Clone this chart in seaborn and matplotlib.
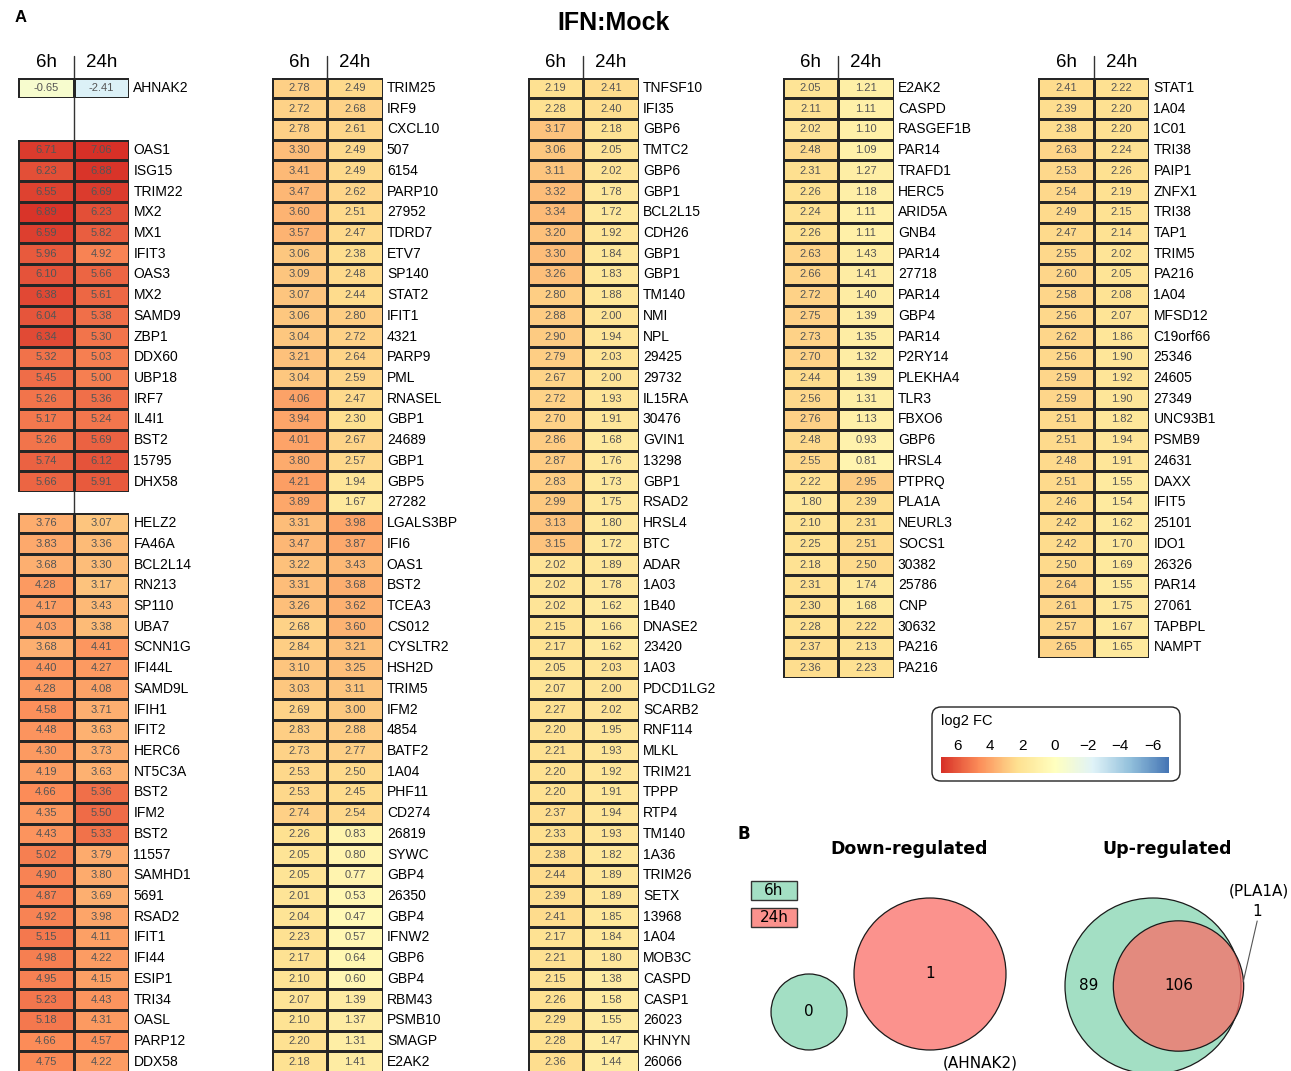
import numpy as np
import matplotlib
matplotlib.use("Agg")
import matplotlib.pyplot as plt
import seaborn as sns
from matplotlib.colors import LinearSegmentedColormap, Normalize
from matplotlib.cm import ScalarMappable
from matplotlib.patches import Circle, Rectangle, FancyBboxPatch

# ---------------------------------------------------------------- data
# Column 1: the single down-regulated gene, then two blocks of up-regulated genes
down_genes = ["AHNAK2"]
down_6h = [-0.65]
down_24h = [-2.41]

c1a_genes = ["OAS1", "ISG15", "TRIM22", "MX2", "MX1", "IFIT3", "OAS3", "MX2", "SAMD9",
             "ZBP1", "DDX60", "UBP18", "IRF7", "IL4I1", "BST2", "15795", "DHX58"]
c1a_6h = [6.71, 6.23, 6.55, 6.89, 6.59, 5.96, 6.10, 6.38, 6.04, 6.34, 5.32, 5.45, 5.26,
          5.17, 5.26, 5.74, 5.66]
c1a_24h = [7.06, 6.88, 6.69, 6.23, 5.82, 4.92, 5.66, 5.61, 5.38, 5.30, 5.03, 5.00, 5.36,
           5.24, 5.69, 6.12, 5.91]

c1b_genes = ["HELZ2", "FA46A", "BCL2L14", "RN213", "SP110", "UBA7", "SCNN1G", "IFI44L",
             "SAMD9L", "IFIH1", "IFIT2", "HERC6", "NT5C3A", "BST2", "IFM2", "BST2", "11557",
             "SAMHD1", "5691", "RSAD2", "IFIT1", "IFI44", "ESIP1", "TRI34", "OASL", "PARP12",
             "DDX58"]
c1b_6h = [3.76, 3.83, 3.68, 4.28, 4.17, 4.03, 3.68, 4.40, 4.28, 4.58, 4.48, 4.30, 4.19,
          4.66, 4.35, 4.43, 5.02, 4.90, 4.87, 4.92, 5.15, 4.98, 4.95, 5.23, 5.18, 4.66, 4.75]
c1b_24h = [3.07, 3.36, 3.30, 3.17, 3.43, 3.38, 4.41, 4.27, 4.08, 3.71, 3.63, 3.73, 3.63,
           5.36, 5.50, 5.33, 3.79, 3.80, 3.69, 3.98, 4.11, 4.22, 4.15, 4.43, 4.31, 4.57, 4.22]

c2_genes = ["TRIM25", "IRF9", "CXCL10", "507", "6154", "PARP10", "27952", "TDRD7", "ETV7",
            "SP140", "STAT2", "IFIT1", "4321", "PARP9", "PML", "RNASEL", "GBP1", "24689",
            "GBP1", "GBP5", "27282", "LGALS3BP", "IFI6", "OAS1", "BST2", "TCEA3", "CS012",
            "CYSLTR2", "HSH2D", "TRIM5", "IFM2", "4854", "BATF2", "1A04", "PHF11", "CD274",
            "26819", "SYWC", "GBP4", "26350", "GBP4", "IFNW2", "GBP6", "GBP4", "RBM43",
            "PSMB10", "SMAGP", "E2AK2"]
c2_6h = [2.78, 2.72, 2.78, 3.30, 3.41, 3.47, 3.60, 3.57, 3.06, 3.09, 3.07, 3.06, 3.04,
         3.21, 3.04, 4.06, 3.94, 4.01, 3.80, 4.21, 3.89, 3.31, 3.47, 3.22, 3.31, 3.26,
         2.68, 2.84, 3.10, 3.03, 2.69, 2.83, 2.73, 2.53, 2.53, 2.74, 2.26, 2.05, 2.05,
         2.01, 2.04, 2.23, 2.17, 2.10, 2.07, 2.10, 2.20, 2.18]
c2_24h = [2.49, 2.68, 2.61, 2.49, 2.49, 2.62, 2.51, 2.47, 2.38, 2.48, 2.44, 2.80, 2.72,
          2.64, 2.59, 2.47, 2.30, 2.67, 2.57, 1.94, 1.67, 3.98, 3.87, 3.43, 3.68, 3.62,
          3.60, 3.21, 3.25, 3.11, 3.00, 2.88, 2.77, 2.50, 2.45, 2.54, 0.83, 0.80, 0.77,
          0.53, 0.47, 0.57, 0.64, 0.60, 1.39, 1.37, 1.31, 1.41]

c3_genes = ["TNFSF10", "IFI35", "GBP6", "TMTC2", "GBP6", "GBP1", "BCL2L15", "CDH26", "GBP1",
            "GBP1", "TM140", "NMI", "NPL", "29425", "29732", "IL15RA", "30476", "GVIN1",
            "13298", "GBP1", "RSAD2", "HRSL4", "BTC", "ADAR", "1A03", "1B40", "DNASE2",
            "23420", "1A03", "PDCD1LG2", "SCARB2", "RNF114", "MLKL", "TRIM21", "TPPP",
            "RTP4", "TM140", "1A36", "TRIM26", "SETX", "13968", "1A04", "MOB3C", "CASPD",
            "CASP1", "26023", "KHNYN", "26066"]
c3_6h = [2.19, 2.28, 3.17, 3.06, 3.11, 3.32, 3.34, 3.20, 3.30, 3.26, 2.80, 2.88, 2.90,
         2.79, 2.67, 2.72, 2.70, 2.86, 2.87, 2.83, 2.99, 3.13, 3.15, 2.02, 2.02, 2.02,
         2.15, 2.17, 2.05, 2.07, 2.27, 2.20, 2.21, 2.20, 2.20, 2.37, 2.33, 2.38, 2.44,
         2.39, 2.41, 2.17, 2.21, 2.15, 2.26, 2.29, 2.28, 2.36]
c3_24h = [2.41, 2.40, 2.18, 2.05, 2.02, 1.78, 1.72, 1.92, 1.84, 1.83, 1.88, 2.00, 1.94,
          2.03, 2.00, 1.93, 1.91, 1.68, 1.76, 1.73, 1.75, 1.80, 1.72, 1.89, 1.78, 1.62,
          1.66, 1.62, 2.03, 2.00, 2.02, 1.95, 1.93, 1.92, 1.91, 1.94, 1.93, 1.82, 1.89,
          1.89, 1.85, 1.84, 1.80, 1.38, 1.58, 1.55, 1.47, 1.44]

c4_genes = ["E2AK2", "CASPD", "RASGEF1B", "PAR14", "TRAFD1", "HERC5", "ARID5A", "GNB4",
            "PAR14", "27718", "PAR14", "GBP4", "PAR14", "P2RY14", "PLEKHA4", "TLR3", "FBXO6",
            "GBP6", "HRSL4", "PTPRQ", "PLA1A", "NEURL3", "SOCS1", "30382", "25786", "CNP",
            "30632", "PA216", "PA216"]
c4_6h = [2.05, 2.11, 2.02, 2.48, 2.31, 2.26, 2.24, 2.26, 2.63, 2.66, 2.72, 2.75, 2.73,
         2.70, 2.44, 2.56, 2.76, 2.48, 2.55, 2.22, 1.80, 2.10, 2.25, 2.18, 2.31, 2.30,
         2.28, 2.37, 2.36]
c4_24h = [1.21, 1.11, 1.10, 1.09, 1.27, 1.18, 1.11, 1.11, 1.43, 1.41, 1.40, 1.39, 1.35,
          1.32, 1.39, 1.31, 1.13, 0.93, 0.81, 2.95, 2.39, 2.31, 2.51, 2.50, 1.74, 1.68,
          2.22, 2.13, 2.23]

c5_genes = ["STAT1", "1A04", "1C01", "TRI38", "PAIP1", "ZNFX1", "TRI38", "TAP1", "TRIM5",
            "PA216", "1A04", "MFSD12", "C19orf66", "25346", "24605", "27349", "UNC93B1",
            "PSMB9", "24631", "DAXX", "IFIT5", "25101", "IDO1", "26326", "PAR14", "27061",
            "TAPBPL", "NAMPT"]
c5_6h = [2.41, 2.39, 2.38, 2.63, 2.53, 2.54, 2.49, 2.47, 2.55, 2.60, 2.58, 2.56, 2.62,
         2.56, 2.59, 2.59, 2.51, 2.51, 2.48, 2.51, 2.46, 2.42, 2.42, 2.50, 2.64, 2.61,
         2.57, 2.65]
c5_24h = [2.22, 2.20, 2.20, 2.24, 2.26, 2.19, 2.15, 2.14, 2.02, 2.05, 2.08, 2.07, 1.86,
          1.90, 1.92, 1.90, 1.82, 1.94, 1.91, 1.55, 1.54, 1.62, 1.70, 1.69, 1.55, 1.75,
          1.67, 1.65]

time_labels = ["6h", "24h"]
legend_ticks = [6, 4, 2, 0, -2, -4, -6]

# Venn counts (exclusive regions)
down_only6, down_both, down_only24 = 0, 0, 1
up_only6, up_both, up_only24 = 89, 106, 1

# ---------------------------------------------------------------- style
sns.set_style("white")
plt.rcParams["font.family"] = ["Liberation Sans", "DejaVu Sans"]
for k in ("text.color", "axes.labelcolor", "xtick.color", "ytick.color"):
    plt.rcParams[k] = "black"

W, H = 1291, 1071
fig = plt.figure(figsize=(W / 100, H / 100), dpi=100)

# full-figure overlay in pixel units for annotations and the Venn panel
over = fig.add_axes([0, 0, 1, 1])
over.set_xlim(0, W)
over.set_ylim(H, 0)
over.axis("off")

cmap = LinearSegmentedColormap.from_list(
    "log2fc", ["#4575b4", "#91bfdb", "#e0f3f8", "#ffffbf", "#fee090", "#fc8d59", "#d73027"])
VMIN, VMAX = -7, 7

ROW_H = 20.72
TOP = 77.6
CELL_W = 55.5


def block(left, start_row, genes, v6, v24):
    n = len(genes)
    top_px = TOP + start_row * ROW_H
    ax = fig.add_axes([left / W, 1 - (top_px + n * ROW_H) / H,
                       2 * CELL_W / W, n * ROW_H / H])
    mat = np.column_stack([v6, v24]).astype(float)
    sns.heatmap(mat, ax=ax, cmap=cmap, vmin=VMIN, vmax=VMAX, annot=True, fmt=".2f",
                annot_kws=dict(fontsize=8, color="#555555"),
                linewidths=0.8, linecolor="#262626", cbar=False,
                xticklabels=False, yticklabels=genes)
    ax.yaxis.tick_right()
    ax.tick_params(axis="y", length=0, pad=3, labelsize=10, labelcolor="black")
    plt.setp(ax.get_yticklabels(), rotation=0, va="center")
    return ax


def header(ax, extent_rows):
    for i, lab in enumerate(time_labels):
        ax.text(i + 0.5, -0.72, lab, ha="center", va="center", fontsize=13.5)
    ax.plot([1, 1], [-1.05, extent_rows], color="#333333", lw=1.0, clip_on=False,
            zorder=0.5)


col_lefts = [18.3, 271.7, 527.7, 782.7, 1038.3]

ax1 = block(col_lefts[0], 0, down_genes, down_6h, down_24h)
header(ax1, 48)
block(col_lefts[0], 3, c1a_genes, c1a_6h, c1a_24h)
block(col_lefts[0], 21, c1b_genes, c1b_6h, c1b_24h)

for left, g, a, b in [(col_lefts[1], c2_genes, c2_6h, c2_24h),
                      (col_lefts[2], c3_genes, c3_6h, c3_24h),
                      (col_lefts[3], c4_genes, c4_6h, c4_24h),
                      (col_lefts[4], c5_genes, c5_6h, c5_24h)]:
    ax = block(left, 0, g, a, b)
    header(ax, 0)

# ---------------------------------------------------------------- titles
over.text(15, 18, "A", fontsize=12, fontweight="bold", ha="left", va="center")
over.text(614, 23, "IFN:Mock", fontsize=18, fontweight="bold", ha="center", va="center")

# ---------------------------------------------------------------- colour legend
over.add_patch(FancyBboxPatch((932, 707), 248, 74,
                              boxstyle="round,pad=0,rounding_size=9",
                              fc="white", ec="#222222", lw=1.0))
over.text(941, 721, "log2 FC", fontsize=10.5, ha="left", va="center")
cax = fig.add_axes([941 / W, 1 - 773 / H, 228 / W, 16 / H])
cb = fig.colorbar(ScalarMappable(norm=Normalize(VMIN, VMAX), cmap=cmap), cax=cax,
                  orientation="horizontal")
cb.outline.set_visible(False)
cax.invert_xaxis()
cax.xaxis.set_ticks_position("top")
cb.set_ticks(legend_ticks)
cax.tick_params(axis="x", length=0, pad=3, labelsize=11)

# ---------------------------------------------------------------- Venn panel
GREEN = "#a3dfc4"
RED = "#fa6e67"
RED_ALPHA = 0.75

over.text(744, 834, "B", fontsize=12, fontweight="bold", ha="center", va="center",
          family="DejaVu Sans")
over.text(909, 849, "Down-regulated", fontsize=12.5, fontweight="bold",
          ha="center", va="center", family="DejaVu Sans")
over.text(1167, 849, "Up-regulated", fontsize=12.5, fontweight="bold",
          ha="center", va="center", family="DejaVu Sans")

# set legend
for (y0, lab, fc, al) in [(881, "6h", GREEN, 1.0), (908, "24h", RED, RED_ALPHA)]:
    over.add_patch(Rectangle((751, y0), 46, 19, fc=fc, alpha=al, ec="none"))
    over.add_patch(Rectangle((751, y0), 46, 19, fc="none", ec="#333333", lw=1.0))
    over.text(774, y0 + 9.5, lab, ha="center", va="center", fontsize=11,
              family="DejaVu Sans")


def lens_area(R, r, d):
    if d >= R + r:
        return 0.0
    if d <= abs(R - r):
        return np.pi * min(R, r) ** 2
    a1 = r * r * np.arccos((d * d + r * r - R * R) / (2 * d * r))
    a2 = R * R * np.arccos((d * d + R * R - r * r) / (2 * d * R))
    a3 = 0.5 * np.sqrt((-d + r + R) * (d + r - R) * (d - r + R) * (d + r + R))
    return a1 + a2 - a3


def solve_distance(R, r, target):
    lo, hi = abs(R - r), R + r
    for _ in range(80):
        mid = 0.5 * (lo + hi)
        if lens_area(R, r, mid) > target:
            lo = mid
        else:
            hi = mid
    return 0.5 * (lo + hi)


def draw_circle(cx, cy, rad, fc, alpha):
    over.add_patch(Circle((cx, cy), rad, fc=fc, alpha=alpha, ec="none"))
    over.add_patch(Circle((cx, cy), rad, fc="none", ec="#1a1a1a", lw=0.9))


# Down-regulated: disjoint sets; an empty set is shown at a quarter of the unit area
down_n6 = down_only6 + down_both
down_n24 = down_only24 + down_both
R24_down = 76.0
unit_down = np.pi * R24_down ** 2 / down_n24
r6_down = np.sqrt(max(down_n6, 0.25) * unit_down / np.pi)
down_anchor = np.array([930.0, 974.0])
direction = np.array([-121.0, 38.0])
direction /= np.linalg.norm(direction)
g_center = down_anchor + direction * (R24_down + r6_down + 12.8)
draw_circle(*g_center, r6_down, GREEN, 1.0)
draw_circle(*down_anchor, R24_down, RED, RED_ALPHA)
over.text(*g_center, str(down_only6), ha="center", va="center", fontsize=11,
          family="DejaVu Sans")
over.text(*down_anchor, str(down_only24), ha="center", va="center", fontsize=11,
          family="DejaVu Sans")
over.text(down_anchor[0] + 50, down_anchor[1] + 89, "(AHNAK2)", ha="center",
          va="center", fontsize=11, family="DejaVu Sans")

# Up-regulated: overlapping sets, areas proportional to counts
up_n6 = up_only6 + up_both
up_n24 = up_only24 + up_both
R6_up = 88.0
unit_up = np.pi * R6_up ** 2 / up_n6
r24_up = np.sqrt(up_n24 * unit_up / np.pi)
d_up = solve_distance(R6_up, r24_up, up_both * unit_up)
up_anchor = np.array([1153.0, 986.0])
red_center = up_anchor + np.array([d_up, 0.0])
draw_circle(*up_anchor, R6_up, GREEN, 1.0)
draw_circle(*red_center, r24_up, RED, RED_ALPHA)
crescent_x = 0.5 * ((up_anchor[0] - R6_up) + (red_center[0] - r24_up))
over.text(crescent_x, up_anchor[1], str(up_only6), ha="center", va="center",
          fontsize=11, family="DejaVu Sans")
over.text(*red_center, str(up_both), ha="center", va="center", fontsize=11,
          family="DejaVu Sans")
sliver = red_center + np.array([r24_up - 0.5, -4.0])
lab_pos = sliver + np.array([14.0, -70.0])
over.plot([sliver[0], lab_pos[0]], [sliver[1], lab_pos[1] + 9], color="#555555", lw=0.8)
over.text(lab_pos[0], lab_pos[1], str(up_only24), ha="center", va="center",
          fontsize=11, family="DejaVu Sans")
over.text(lab_pos[0] + 2, lab_pos[1] - 21, "(PLA1A)", ha="center", va="center",
          fontsize=11, family="DejaVu Sans")

fig.savefig("out.png", dpi=100)
